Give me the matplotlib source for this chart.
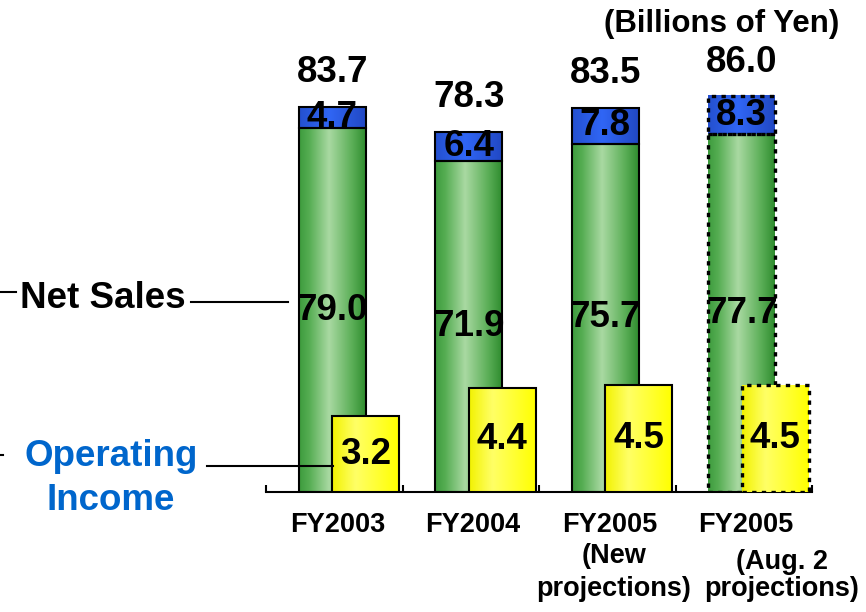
import numpy as np
import matplotlib
matplotlib.use("Agg")
import matplotlib.pyplot as plt
from matplotlib.colors import LinearSegmentedColormap
from matplotlib.lines import Line2D
from matplotlib.patches import Rectangle
from matplotlib.transforms import blended_transform_factory

# ========== data ==========
years = ["FY2003", "FY2004", "FY2005", "FY2005"]
sublabels = ["", "", "(New\nprojections)", "(Aug. 2\nprojections)"]
net_sales_base = [79.0, 71.9, 75.7, 77.7]
net_sales_top = [4.7, 6.4, 7.8, 8.3]
totals = [83.7, 78.3, 83.5, 86.0]
op_income = [3.2, 4.4, 4.5, 4.5]
is_projection = [False, False, False, True]

# ========== style ==========
plt.rcParams['font.family'] = ['Liberation Sans', 'DejaVu Sans']
plt.rcParams['font.weight'] = 'bold'

W, H = 866, 612
fig = plt.figure(figsize=(W / 100, H / 100), dpi=100)


def fx(px):
    return px / W


def fy(py):
    return 1 - py / H


# axes: baseline at y=492px, x from 266 to 812px
ax = fig.add_axes([fx(266), fy(492), fx(812) - fx(266), 492 / H])
ax2 = ax.twinx()

green_cmap = LinearSegmentedColormap.from_list(
    "g", [(0, "#3d9b3d"), (0.15, "#55ad52"), (0.45, "#a9d9a2"),
          (0.8, "#5aae56"), (1, "#2f8c2f")])
blue_cmap = LinearSegmentedColormap.from_list(
    "b", [(0, "#2450cf"), (0.45, "#3066f5"), (1, "#2148c4")])
yellow_cmap = LinearSegmentedColormap.from_list(
    "y", [(0, "#f2f200"), (0.35, "#ffff66"), (0.7, "#ffff30"), (1, "#ffff00")])
grad = np.linspace(0, 1, 256).reshape(1, -1)

g_off, y_off, bw = 0.24, 0.485, 0.49
VAL_FS = 26.5


def gradient_bar(a, x0, y0, h, cmap, dashed):
    a.imshow(grad, cmap=cmap, extent=[x0, x0 + bw, y0, y0 + h],
             aspect='auto', interpolation='bilinear', zorder=2)
    if dashed:
        r = Rectangle((x0, y0), bw, h, fill=False, edgecolor='black',
                      lw=2.4, linestyle=(0, (1.3, 1.6)), zorder=3)
    else:
        r = Rectangle((x0, y0), bw, h, fill=False, edgecolor='black',
                      lw=1.5, zorder=3)
    a.add_patch(r)


for i in range(len(years)):
    xg = i + g_off
    xy = i + y_off
    gradient_bar(ax, xg, 0, net_sales_base[i], green_cmap, is_projection[i])
    gradient_bar(ax, xg, net_sales_base[i], net_sales_top[i], blue_cmap, is_projection[i])
    gradient_bar(ax2, xy, 0, op_income[i], yellow_cmap, is_projection[i])

    cx = xg + bw / 2
    ax.text(cx, totals[i] + 7.4, f"{totals[i]:.1f}", ha='center', va='center',
            fontsize=VAL_FS, zorder=5)
    ax.text(cx, net_sales_base[i] + net_sales_top[i] / 2, f"{net_sales_top[i]:.1f}",
            ha='center', va='center', fontsize=VAL_FS, zorder=5)
    ax.text(cx, net_sales_base[i] / 2, f"{net_sales_base[i]:.1f}",
            ha='center', va='center', fontsize=VAL_FS, zorder=5)
    ax2.text(xy + bw / 2, op_income[i] / 2, f"{op_income[i]:.1f}",
             ha='center', va='center', fontsize=VAL_FS, zorder=5)

ax.set_xlim(0, 4)
ax.set_ylim(0, 492 / 4.603)
ax2.set_ylim(0, 492 / 23.7)

for a in (ax, ax2):
    for s in ('top', 'right', 'left'):
        a.spines[s].set_visible(False)
    a.set_yticks([])
ax2.spines['bottom'].set_visible(False)
ax.spines['bottom'].set_linewidth(1.5)
ax.set_xticks(np.arange(0, 5))
ax.set_xticklabels([])
ax.tick_params(axis='x', direction='in', length=5, width=1.5)

# category labels
trans = blended_transform_factory(ax.transData, ax.transAxes)
label_x = [0.528, 1.516, 2.52, 3.516]
sub_x = [0.0, 0.0, 2.549, 3.78]
sub_y = [0, 0, 556, 562]
for i in range(len(years)):
    ax.text(label_x[i], -33 / 492, years[i], transform=trans, ha='center',
            va='center', fontsize=19.5)
    if sublabels[i]:
        first, second = sublabels[i].split("\n")
        ax.text(sub_x[i], -(sub_y[i] - 492) / 492, first, transform=trans,
                ha='center', va='center', fontsize=19.5)
        ax.text(sub_x[i], -(589 - 492) / 492, second, transform=trans,
                ha='center', va='center', fontsize=19.5)

# unit label
fig.text(fx(722), fy(24), "(Billions of Yen)", ha='center', va='center', fontsize=22.5)

# series labels with leader lines
fig.text(fx(20), fy(298), "Net Sales", ha='left', va='center', fontsize=26.5)
fig.text(fx(111), fy(457), "Operating", ha='center', va='center',
         fontsize=26.5, color='#0066cc')
fig.text(fx(111), fy(501), "Income", ha='center', va='center',
         fontsize=26.5, color='#0066cc')

for (x0, x1, yy) in [(191, 288, 301.7), (0, 16, 291.7), (207, 333, 465.5), (0, 3, 455)]:
    fig.add_artist(Line2D([fx(x0), fx(x1)], [fy(yy), fy(yy)], color='black',
                          lw=1.5, transform=fig.transFigure))

fig.savefig("out.png", dpi=100)
